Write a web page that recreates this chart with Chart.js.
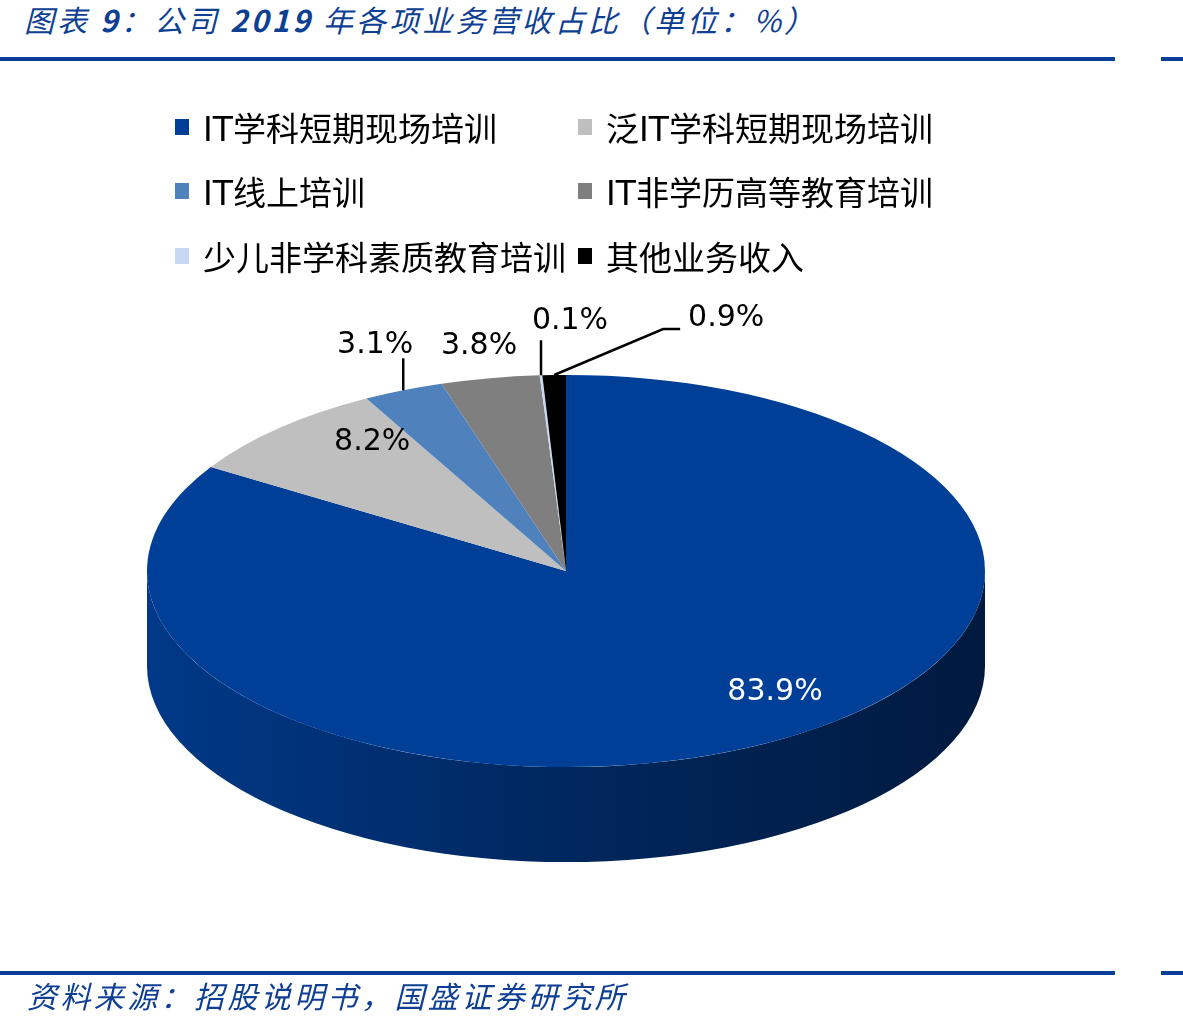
<!DOCTYPE html>
<html>
<head>
<meta charset="utf-8">
<script src="https://cdn.jsdelivr.net/npm/chart.js@4"></script>
<style>
  body { margin: 0; background: #fff; }
  #wrap { position: relative; width: 1183px; height: 1025px; overflow: hidden; }
  .caption { position: absolute; color: #0e3f93; font-family: "Noto Sans CJK SC", sans-serif; font-style: italic; font-size: 30px; white-space: nowrap; }
  .rule { position: absolute; height: 4px; background: #0a3f99; }
  .legend-item { position: absolute; height: 40px; display: flex; align-items: center; font-family: "DejaVu Sans", "Noto Sans CJK SC", sans-serif; font-size: 33px; color: #000; white-space: nowrap; }
  .legend-item .box { width: 14px; height: 16px; margin-right: 14px; }
  canvas { position: absolute; left: 0; top: 0; }
</style>
</head>
<body>
<div id="wrap">
  <div class="caption" style="left:24px; top:-3px; letter-spacing:3.1px;">图表 <b>9</b>：公司 <b>2019</b> 年各项业务营收占比（单位：%）</div>
  <div class="rule" style="left:0; width:1115px; top:57px;"></div>
  <div class="rule" style="left:1161px; width:22px; top:57px;"></div>
  <canvas id="pie" width="1183" height="1025"></canvas>
  <div class="rule" style="left:0; width:1115px; top:971px;"></div>
  <div class="rule" style="left:1161px; width:22px; top:971px;"></div>
  <div class="caption" style="left:27px; top:973px; letter-spacing:3.4px;">资料来源：招股说明书，国盛证券研究所</div>
</div>
<script>
// business lines, 2019 revenue share (%)
const categories = ["IT学科短期现场培训", "泛IT学科短期现场培训", "IT线上培训", "IT非学历高等教育培训", "少儿非学科素质教育培训", "其他业务收入"];
const shares = [83.9, 8.2, 3.1, 3.8, 0.1, 0.9];
const sliceColors = ["#003f97", "#bfbfbf", "#4f81bd", "#7f7f7f", "#c6d9f1", "#000000"];

// label placement relative to the rim point at each slice's middle
const labelPlace = [
  { dx: 6, dy: -50, color: "#fff" },
  { dx: 93, dy: 14, color: "#000" },
  { dx: -28, dy: -45, color: "#000", leader: [[0, 0], [0, -32]] },
  { dx: -11, dy: -32, color: "#000" },
  { dx: 29, dy: -54, color: "#000", leader: [[0, 0], [0, -35]] },
  { dx: 172, dy: -57, color: "#000", leader: [[0, 0], [109, -46], [126, -46]] },
];

// legend laid out in two columns
const legendCols = [175, 578];
const legendRows = [127, 191, 256];
const wrap = document.getElementById("wrap");
categories.forEach((name, i) => {
  const item = document.createElement("div");
  item.className = "legend-item";
  item.style.left = legendCols[i % 2] + "px";
  item.style.top = (legendRows[Math.floor(i / 2)] - 20) + "px";
  item.innerHTML = '<span class="box" style="background:' + sliceColors[i] + '"></span>' + name;
  wrap.appendChild(item);
});

const centerY = 571;   // screen centre of the top face
const tilt = 0.468;    // vertical squash of the top face
const depth = 95;      // thickness of the pie

function shade(hex, f) {
  const n = parseInt(hex.slice(1), 16);
  const r = Math.round(((n >> 16) & 255) * f);
  const g = Math.round(((n >> 8) & 255) * f);
  const b = Math.round((n & 255) * f);
  return "rgb(" + r + "," + g + "," + b + ")";
}

const pie3d = {
  id: "pie3d",
  beforeDatasetsDraw(chart) {
    const ctx = chart.ctx;
    const arcs = chart.getDatasetMeta(0).data;
    const cx = arcs[0].x, R = arcs[0].outerRadius, ry = R * tilt;
    // front wall
    arcs.forEach((arc, i) => {
      const a1 = Math.max(arc.startAngle, 0);
      const a2 = Math.min(arc.endAngle, Math.PI);
      if (a1 >= a2) return;
      const g = ctx.createLinearGradient(cx - R, 0, cx + R, 0);
      g.addColorStop(0, shade(sliceColors[i], 0.9));
      g.addColorStop(0.5, shade(sliceColors[i], 0.62));
      g.addColorStop(1, shade(sliceColors[i], 0.42));
      ctx.beginPath();
      ctx.ellipse(cx, centerY, R, ry, 0, a1, a2);
      ctx.ellipse(cx, centerY + depth, R, ry, 0, a2, a1, true);
      ctx.closePath();
      ctx.fillStyle = g;
      ctx.fill();
    });
    ctx.save();
    ctx.translate(0, centerY);
    ctx.scale(1, tilt);
    ctx.translate(0, -arcs[0].y);
  },
  afterDatasetsDraw(chart) {
    const ctx = chart.ctx;
    ctx.restore();
    const arcs = chart.getDatasetMeta(0).data;
    const cx = arcs[0].x, R = arcs[0].outerRadius, ry = R * tilt;
    ctx.save();
    ctx.font = "30px 'DejaVu Sans'";
    ctx.textAlign = "center";
    ctx.textBaseline = "middle";
    arcs.forEach((arc, i) => {
      const mid = (arc.startAngle + arc.endAngle) / 2;
      const rx = cx + R * Math.cos(mid);
      const ryy = centerY + ry * Math.sin(mid);
      const p = labelPlace[i];
      if (p.leader) {
        ctx.beginPath();
        p.leader.forEach(([lx, ly], j) => {
          if (j === 0) ctx.moveTo(rx + lx, ryy + ly);
          else ctx.lineTo(rx + lx, ryy + ly);
        });
        ctx.strokeStyle = "#000";
        ctx.lineWidth = 2.5;
        ctx.stroke();
      }
      ctx.fillStyle = p.color;
      ctx.fillText(shares[i].toFixed(1) + "%", rx + p.dx, ryy + p.dy);
    });
    ctx.restore();
  }
};

new Chart(document.getElementById("pie"), {
  type: "pie",
  data: {
    labels: categories,
    datasets: [{
      data: shares,
      backgroundColor: sliceColors,
      borderWidth: 0,
      clip: false,
    }],
  },
  options: {
    responsive: false,
    animation: false,
    events: [],
    layout: {
      padding: { left: 147, right: 198, top: 93, bottom: 94 },
    },
    plugins: {
      legend: { display: false },
      tooltip: { enabled: false },
    },
  },
  plugins: [pie3d],
});
</script>
</body>
</html>
